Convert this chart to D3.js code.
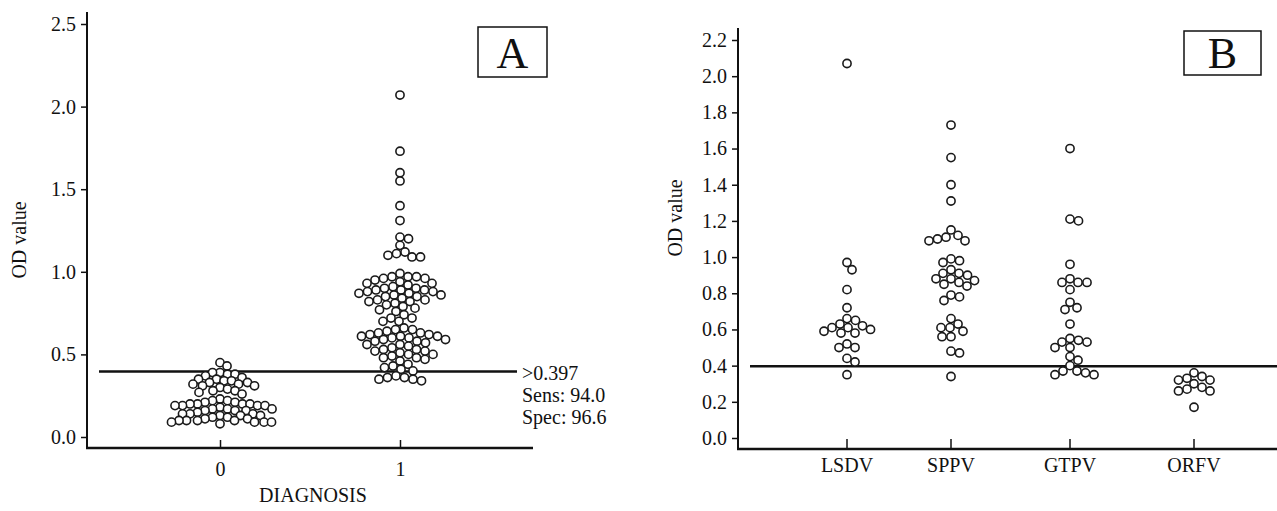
<!DOCTYPE html>
<html lang="en">
<head>
<meta charset="utf-8">
<title>OD value dot plots</title>
<script src="https://d3js.org/d3.v7.min.js"></script>
<style>
  body { margin: 0; background: #fff; }
  text { font-family: "Liberation Serif", "DejaVu Serif", serif; fill: #111; }
  .tick text { font-size: 20px; }
  .lbl { font-size: 20px; }
  .dot { fill: #fff; stroke: #1a1a1a; stroke-width: 1.6; }
</style>
</head>
<body>
<div id="vis"></div>
<script>
const width = 1277, height = 511;

// panel A : diagnosis groups
const diagCats = ["0", "1"];
const diag0 = [0.45, 0.43,
  0.39, 0.39, 0.38, 0.37, 0.38, 0.35, 0.35, 0.34, 0.36,
  0.33, 0.32, 0.32, 0.31, 0.31, 0.33, 0.34, 0.30, 0.29, 0.28, 0.28, 0.26, 0.27,
  0.22, 0.23, 0.22, 0.21,
  0.20, 0.20, 0.19, 0.19, 0.20, 0.21, 0.19, 0.18, 0.20, 0.19,
  0.17, 0.16, 0.17, 0.16, 0.15, 0.16, 0.17,
  0.14, 0.13, 0.13, 0.14, 0.12, 0.13, 0.14,
  0.11, 0.12, 0.11,
  0.10, 0.10, 0.09, 0.09, 0.10, 0.09, 0.10, 0.09, 0.08];
const diag1 = [2.07, 1.73, 1.60, 1.55, 1.40, 1.31, 1.21, 1.20, 1.16,
  1.09, 1.09, 1.10, 1.11, 1.12,
  0.96, 0.96, 0.97, 0.97, 0.99, 0.92, 0.93, 0.93, 0.94, 0.95, 0.97,
  0.89, 0.90, 0.90, 0.88, 0.88, 0.87, 0.89, 0.91, 0.89,
  0.85, 0.85, 0.86, 0.86, 0.87, 0.84, 0.83,
  0.82, 0.82, 0.83, 0.81, 0.80, 0.78, 0.79, 0.77, 0.76,
  0.74, 0.72, 0.72, 0.70, 0.70,
  0.66, 0.65, 0.64, 0.65, 0.63, 0.63,
  0.61, 0.60, 0.60, 0.61, 0.62, 0.59, 0.58, 0.58, 0.61, 0.62, 0.59,
  0.57, 0.56, 0.55, 0.56, 0.54, 0.53, 0.52, 0.51, 0.50, 0.50, 0.52, 0.53,
  0.48, 0.47, 0.46, 0.48, 0.49, 0.44, 0.43, 0.42, 0.41, 0.40,
  0.34, 0.35, 0.36, 0.37, 0.36, 0.35];
const yTicksA = [0, 0.5, 1.0, 1.5, 2.0, 2.5];

// panel B : virus groups
const virusCats = ["LSDV", "SPPV", "GTPV", "ORFV"];
const lsdv = [2.07, 0.97, 0.93, 0.82, 0.72, 0.66, 0.65, 0.63, 0.62, 0.61, 0.61,
  0.60, 0.59, 0.58, 0.58, 0.52, 0.50, 0.50, 0.44, 0.42, 0.35];
const sppv = [1.73, 1.55, 1.40, 1.31, 1.15, 1.09, 1.09, 1.10, 1.11, 1.12,
  0.97, 0.98, 0.99, 0.93, 0.91, 0.91, 0.90, 0.88, 0.88, 0.87, 0.86, 0.84, 0.85,
  0.79, 0.78, 0.76, 0.66, 0.63, 0.61, 0.61, 0.59, 0.56, 0.56, 0.48, 0.47, 0.34];
const gtpv = [1.60, 1.21, 1.20, 0.96, 0.88, 0.86, 0.86, 0.86, 0.82, 0.75, 0.72, 0.71,
  0.63, 0.55, 0.53, 0.53, 0.54, 0.50, 0.50, 0.45, 0.43, 0.40, 0.37, 0.37, 0.36, 0.35, 0.35];
const orfv = [0.36, 0.34, 0.33, 0.32, 0.32, 0.30, 0.28, 0.27, 0.26, 0.26, 0.17];
const yTicksB = [0, 0.2, 0.4, 0.6, 0.8, 1.0, 1.2, 1.4, 1.6, 1.8, 2.0, 2.2];

const cutoff = 0.397;
const cutoffText = [">0.397", "Sens: 94.0", "Spec: 96.6"];

const r = 4.1;

// simple beeswarm: nearest free horizontal offset
function swarm(values, y, minD) {
  const pts = values.map(v => ({ v: v, y: y(v), dx: 0 })).sort((a, b) => a.y - b.y);
  const placed = [];
  pts.forEach(p => {
    for (let k = 0; k < 400; k++) {
      const dx = (k % 2 ? 1 : -1) * Math.ceil(k / 2) * 0.5;
      const ok = placed.every(q => {
        const ddy = q.y - p.y;
        if (Math.abs(ddy) >= minD) return true;
        const ddx = q.dx - dx;
        return ddx * ddx + ddy * ddy >= minD * minD;
      });
      if (ok) { p.dx = dx; break; }
    }
    placed.push(p);
  });
  return pts;
}

const svg = d3.select("#vis").append("svg")
  .attr("width", width).attr("height", height);

// ---------- panel A ----------
const xA = d3.scalePoint().domain(diagCats).range([87, 533]).padding(0.739);
const yA = d3.scaleLinear().domain([0, 2.5]).range([437, 24]);

const gA = svg.append("g");
gA.append("g").attr("transform", "translate(87,0)")
  .call(d3.axisLeft(yA).tickValues(yTicksA).tickFormat(d3.format(".1f")).tickSize(6).tickPadding(5))
  .call(g => g.select(".domain").remove());
gA.append("g").attr("transform", "translate(0,448)")
  .call(d3.axisBottom(xA).tickSize(-8).tickPadding(14))
  .call(g => g.select(".domain").remove());
gA.append("line").attr("x1", 87).attr("x2", 87).attr("y1", 12).attr("y2", 449)
  .attr("stroke", "#111").attr("stroke-width", 2);
gA.append("line").attr("x1", 86).attr("x2", 533).attr("y1", 448).attr("y2", 448)
  .attr("stroke", "#111").attr("stroke-width", 2.5);
gA.selectAll(".tick line").attr("stroke", "#111").attr("stroke-width", 1.5);

gA.append("line").attr("x1", 99).attr("x2", 517)
  .attr("y1", yA(cutoff)).attr("y2", yA(cutoff))
  .attr("stroke", "#111").attr("stroke-width", 2.5);

[[diag0, "0", 7.4], [diag1, "1", 8.2]].forEach(([vals, c, md]) => {
  gA.selectAll(null).data(swarm(vals, yA, md)).enter().append("circle")
    .attr("class", "dot")
    .attr("cx", d => xA(c) + d.dx).attr("cy", d => d.y).attr("r", r);
});

gA.selectAll(".cut").data(cutoffText).enter().append("text")
  .attr("class", "lbl").attr("x", 522).attr("y", (d, i) => 380 + i * 22)
  .text(d => d);

gA.append("text").attr("class", "lbl")
  .attr("transform", "translate(26,240) rotate(-90)")
  .attr("text-anchor", "middle").text("OD value");
gA.append("text").attr("class", "lbl").attr("x", 313).attr("y", 502)
  .attr("text-anchor", "middle").text("DIAGNOSIS");

gA.append("rect").attr("x", 478).attr("y", 27).attr("width", 69).attr("height", 50)
  .attr("fill", "none").attr("stroke", "#111").attr("stroke-width", 1.5);
gA.append("text").attr("x", 512.5).attr("y", 68).attr("text-anchor", "middle")
  .style("font-size", "44px").text("A");

// ---------- panel B ----------
const xB = d3.scaleOrdinal().domain(virusCats).range([847, 951, 1070, 1194]);
const yB = d3.scaleLinear().domain([0, 2.2]).range([438, 40]);

const gB = svg.append("g");
gB.append("g").attr("transform", "translate(738,0)")
  .call(d3.axisLeft(yB).tickValues(yTicksB).tickFormat(d3.format(".1f")).tickSize(6).tickPadding(5))
  .call(g => g.select(".domain").remove());
gB.append("g").attr("transform", "translate(0,448)")
  .call(g => g.selectAll(".xt").data(virusCats).enter().append("line")
    .attr("x1", d => xB(d)).attr("x2", d => xB(d)).attr("y1", 0).attr("y2", -9)
    .attr("stroke", "#111").attr("stroke-width", 1.5))
  .call(g => g.selectAll(".xl").data(virusCats).enter().append("text")
    .attr("class", "lbl").attr("x", d => xB(d)).attr("y", 24)
    .attr("text-anchor", "middle").text(d => d));
gB.append("line").attr("x1", 738).attr("x2", 738).attr("y1", 28).attr("y2", 450)
  .attr("stroke", "#111").attr("stroke-width", 2);
gB.append("line").attr("x1", 737).attr("x2", 1277).attr("y1", 449).attr("y2", 449)
  .attr("stroke", "#111").attr("stroke-width", 2.5);
gB.selectAll(".tick line").attr("stroke", "#111").attr("stroke-width", 1.5);

gB.append("line").attr("x1", 750).attr("x2", 1277)
  .attr("y1", yB(cutoff)).attr("y2", yB(cutoff))
  .attr("stroke", "#111").attr("stroke-width", 2.5);

[[lsdv, "LSDV"], [sppv, "SPPV"], [gtpv, "GTPV"], [orfv, "ORFV"]].forEach(([vals, c]) => {
  gB.selectAll(null).data(swarm(vals, yB, 8.6)).enter().append("circle")
    .attr("class", "dot")
    .attr("cx", d => xB(c) + d.dx).attr("cy", d => d.y).attr("r", r);
});

gB.append("text").attr("class", "lbl")
  .attr("transform", "translate(682,218) rotate(-90)")
  .attr("text-anchor", "middle").text("OD value");

gB.append("rect").attr("x", 1184).attr("y", 31).attr("width", 77).attr("height", 44)
  .attr("fill", "none").attr("stroke", "#111").attr("stroke-width", 1.5);
gB.append("text").attr("x", 1222.5).attr("y", 68).attr("text-anchor", "middle")
  .style("font-size", "44px").text("B");
</script>
</body>
</html>
